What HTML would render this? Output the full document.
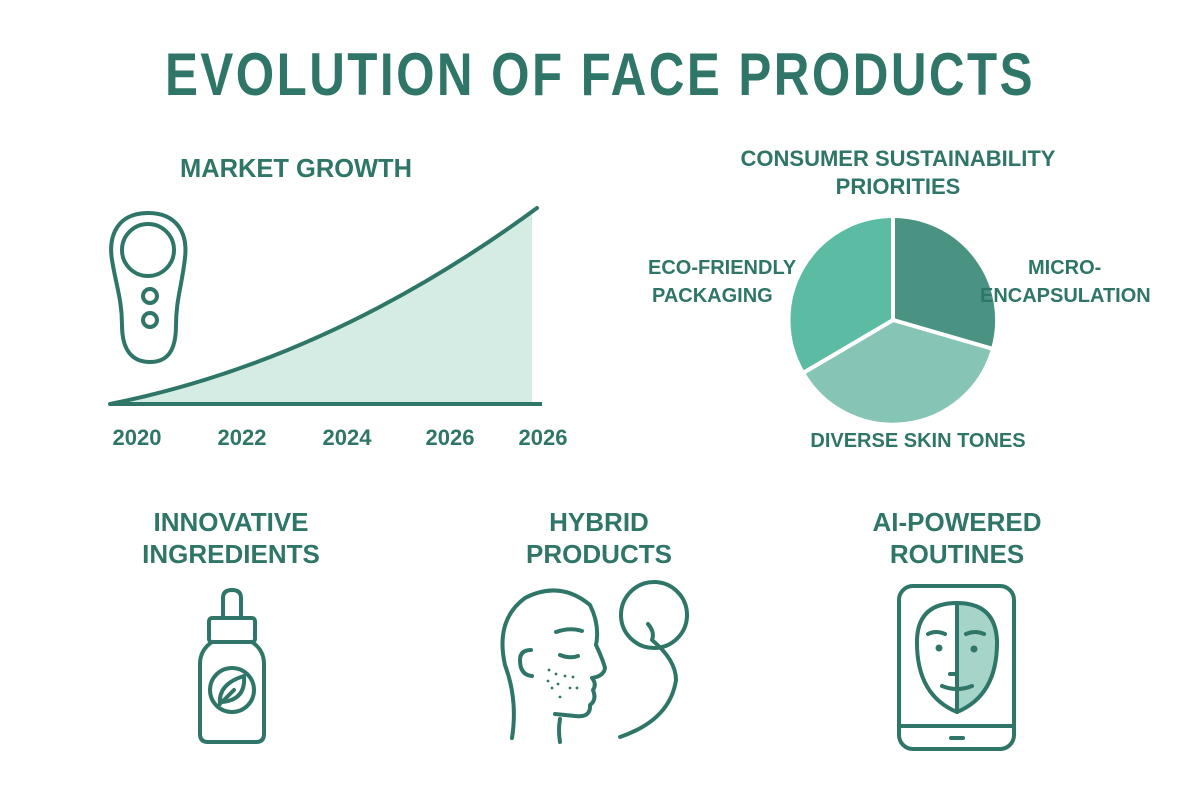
<!DOCTYPE html>
<html><head><meta charset="utf-8"><style>
html,body{margin:0;padding:0;background:#fff}
svg{display:block}
text{font-family:"Liberation Sans",sans-serif;font-weight:bold;fill:#2f7668}
</style></head><body>
<svg width="1200" height="800" viewBox="0 0 1200 800">
<text x="600" y="95" font-size="60" text-anchor="middle" textLength="870" lengthAdjust="spacingAndGlyphs" letter-spacing="3">EVOLUTION OF FACE PRODUCTS</text>

<text x="296" y="177" font-size="26" text-anchor="middle" textLength="232" lengthAdjust="spacingAndGlyphs">MARKET GROWTH</text>
<path d="M110 404 Q330 360 537 208 L532 212 L532 404 Z" fill="#d5ece5"/>
<path d="M110 404 Q330 360 537 208" fill="none" stroke="#2f7668" stroke-width="4" stroke-linecap="round"/>
<line x1="110" y1="404" x2="542" y2="404" stroke="#2f7668" stroke-width="4"/>
<g fill="none" stroke="#2f7668" stroke-width="4">
<path d="M148 213 C118 213 108 235 112 260 C116 285 122 300 122 325 C122 350 132 362 150 362 C168 362 176 350 176 325 C176 300 182 285 185 258 C188 232 176 213 148 213 Z"/>
<circle cx="148" cy="250" r="26"/>
<circle cx="150" cy="296" r="7"/>
<circle cx="150" cy="320" r="7"/>
</g>
<g font-size="22" text-anchor="middle">
<text x="137" y="445">2020</text><text x="242" y="445">2022</text><text x="347" y="445">2024</text><text x="450" y="445">2026</text><text x="543" y="445">2026</text>
</g>

<text x="898" y="166" font-size="22" text-anchor="middle">CONSUMER SUSTAINABILITY</text>
<text x="898" y="194" font-size="22" text-anchor="middle">PRIORITIES</text>
<g stroke="#fff" stroke-width="4">
<path d="M893 320 L893 216 A104 104 0 0 1 993 349 Z" fill="#4a9383"/>
<path d="M893 320 L993 349 A104 104 0 0 1 803 373 Z" fill="#86c4b5"/>
<path d="M893 320 L803 373 A104 104 0 0 1 893 216 Z" fill="#5bbba3"/>
</g>
<text x="648" y="274" font-size="20">ECO-FRIENDLY</text>
<text x="652" y="302" font-size="20">PACKAGING</text>
<text x="1028" y="274" font-size="20">MICRO-</text>
<text x="980" y="302" font-size="20">ENCAPSULATION</text>
<text x="918" y="447" font-size="20" text-anchor="middle">DIVERSE SKIN TONES</text>

<g font-size="26" text-anchor="middle">
<text x="231" y="531">INNOVATIVE</text><text x="231" y="563">INGREDIENTS</text>
<text x="599" y="531">HYBRID</text><text x="599" y="563">PRODUCTS</text>
<text x="957" y="531">AI-POWERED</text><text x="957" y="563">ROUTINES</text>
</g>

<g fill="none" stroke="#2f7668" stroke-width="4" stroke-linecap="round" stroke-linejoin="round">
<path d="M223 618 L223 598 Q223 590 232 590 Q241 590 241 598 L241 618"/>
<rect x="209" y="618" width="46" height="24" rx="3"/>
<path d="M212 642 Q200 650 200 664 L200 734 Q200 742 208 742 L256 742 Q264 742 264 734 L264 664 Q264 650 252 642"/>
<circle cx="232" cy="690" r="22"/>
<path d="M220 704 Q218 684 244 676 Q246 700 222 702 M222 702 L234 690"/>

<path d="M512 738 Q518 700 505 665 Q495 620 525 598 Q560 580 590 605 Q600 625 596 645 Q603 660 605 668 Q604 676 592 678 Q597 684 593 690 Q597 700 590 705 Q591 718 575 716 L555 714"/>
<path d="M560 719 Q558 730 560 742"/>
<path d="M531 650 Q520 650 520 660 Q520 675 532 676"/>
<path d="M556 632 Q570 627 582 631"/>
<path d="M560 655 Q570 659 578 656"/>
<circle cx="654" cy="615" r="33"/>
<path d="M648 624 Q655 632 652 640 Q676 660 676 680 Q670 720 620 737"/>

<rect x="899" y="586" width="115" height="163" rx="14"/>
<line x1="899" y1="726" x2="1014" y2="726"/>
<line x1="951" y1="738" x2="963" y2="738"/>
</g>
<path d="M957 603 Q995 603 997 640 Q998 695 957 712 Z" fill="#a6d4c8"/>
<g fill="none" stroke="#2f7668" stroke-width="4" stroke-linecap="round">
<path d="M957 603 Q918 603 917 640 Q916 695 957 712 Q998 695 997 640 Q995 603 957 603 Z"/>
<line x1="957" y1="603" x2="957" y2="712"/>
<path d="M928 634 Q936 630 945 634 M966 634 Q975 630 984 634 M950 674 L957 674 M942 686 Q957 692 972 686"/>
</g>
<g fill="#2f7668">
<circle cx="939" cy="648" r="3.5"/><circle cx="974" cy="649" r="3.5"/>
<circle cx="549" cy="670" r="1.4"/><circle cx="556" cy="674" r="1.4"/><circle cx="565" cy="676" r="1.4"/><circle cx="573" cy="677" r="1.4"/><circle cx="548" cy="681" r="1.4"/><circle cx="558" cy="684" r="1.4"/><circle cx="570" cy="688" r="1.4"/><circle cx="552" cy="688" r="1.4"/><circle cx="577" cy="688" r="1.4"/><circle cx="560" cy="697" r="1.4"/>
</g>
</svg>
</body></html>
